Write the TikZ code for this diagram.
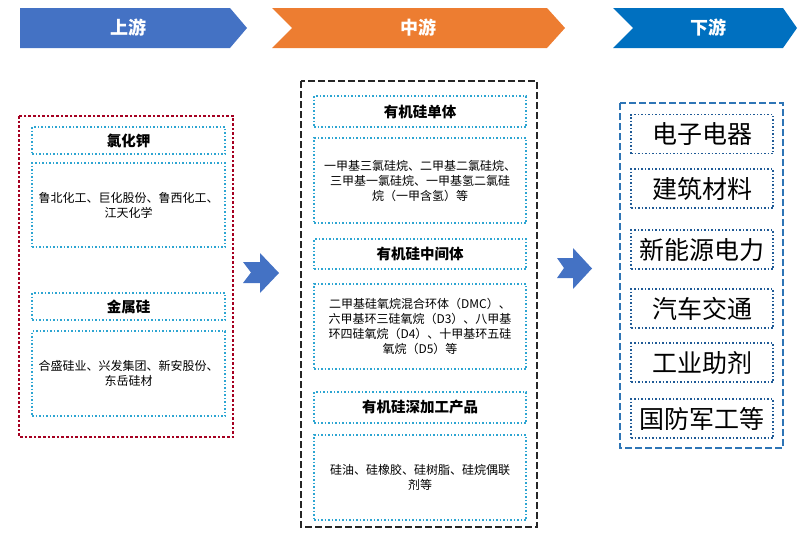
\documentclass[tikz,border=0pt]{standalone}
\usepackage{fontspec}
\setmainfont{Noto Sans CJK SC}
\definecolor{upblue}{RGB}{68,114,196}
\definecolor{midorange}{RGB}{237,125,49}
\definecolor{downblue}{RGB}{0,112,192}
\definecolor{darkred}{RGB}{165,0,33}
\definecolor{cyandot}{RGB}{45,165,210}
\definecolor{boxblue}{RGB}{46,117,182}
\definecolor{navydot}{RGB}{31,90,150}
\tikzset{
  headtxt/.style={text=white,font=\fontsize{18}{20}\selectfont\bfseries},
  titlebox/.style={draw=cyandot,line width=1.5pt,dotted,fill=white,font=\fontsize{14.5}{16}\selectfont\bfseries,inner sep=0pt},
  descbox/.style={draw=cyandot,line width=1.5pt,dotted,fill=white,font=\fontsize{12}{15}\selectfont,align=center,inner sep=0pt},
  downbox/.style={draw=navydot,line width=1.5pt,dotted,fill=white,font=\fontsize{25}{28}\selectfont,minimum width=142pt,minimum height=39pt,inner sep=0pt},
  blockarrow/.style={fill=upblue},
}
\begin{document}
\begin{tikzpicture}[x=1pt,y=-1pt]
\useasboundingbox (0,0) rectangle (806,536);
% header chevrons
\fill[upblue] (20,8) -- (230,8) -- (247,28) -- (230,48) -- (20,48) -- cycle;
\node[headtxt] (hup) at (128,28) {上游};
\fill[midorange] (272,8) -- (547,8) -- (565,28) -- (547,48) -- (272,48) -- (292,28) -- cycle;
\node[headtxt] (hmid) at (418,28) {中游};
\fill[downblue] (613,8) -- (783,8) -- (797,28) -- (783,48) -- (613,48) -- (633,28) -- cycle;
\node[headtxt] (hdown) at (708,28) {下游};

% left container
\draw[darkred,line width=2.6pt,dotted] (19,116) rectangle (233,437);
\node[titlebox,minimum width=193pt,minimum height=27pt] (kcl) at (128.5,140.5) {氯化钾};
\node[descbox,minimum width=193pt,minimum height=84pt] (kcld) at (128.5,205) {鲁北化工、巨化股份、鲁西化工、\\江天化学};
\node[titlebox,minimum width=193pt,minimum height=27pt] (si) at (128.5,306.5) {金属硅};
\node[descbox,minimum width=193pt,minimum height=85pt] (sid) at (128.5,373.5) {合盛硅业、兴发集团、新安股份、\\东岳硅材};

% arrow 1
\fill[blockarrow] (243,262) -- (260,262) -- (260,253) -- (279,273) -- (260,293) -- (260,283) -- (243,283) -- (251,272.5) -- cycle;

% middle container
\draw[black!85,line width=2.3pt,dash pattern=on 7pt off 3pt] (301,81) rectangle (537,527);
\node[titlebox,minimum width=212pt,minimum height=31pt] (m1) at (420,111.5) {有机硅单体};
\node[descbox,minimum width=212pt,minimum height=85pt] (m1d) at (420,180.5) {一甲基三氯硅烷、二甲基二氯硅烷、\\三甲基一氯硅烷、一甲基氢二氯硅\\烷（一甲含氢）等};
\node[titlebox,minimum width=212pt,minimum height=30pt] (m2) at (420,254) {有机硅中间体};
\node[descbox,minimum width=212pt,minimum height=85pt] (m2d) at (420,326.5) {二甲基硅氧烷混合环体（DMC）、\\六甲基环三硅氧烷（D3）、八甲基\\环四硅氧烷（D4）、十甲基环五硅\\氧烷（D5）等};
\node[titlebox,minimum width=212pt,minimum height=31pt] (m3) at (420,407.5) {有机硅深加工产品};
\node[descbox,minimum width=212pt,minimum height=85pt] (m3d) at (420,477.5) {硅油、硅橡胶、硅树脂、硅烷偶联\\剂等};

% arrow 2
\fill[blockarrow] (557,258) -- (573,258) -- (573,248) -- (592,268.5) -- (573,289) -- (573,278) -- (557,278) -- (564,268) -- cycle;

% right container
\draw[boxblue,line width=2pt,dash pattern=on 7pt off 3pt] (620,103) rectangle (783,448);
\node[downbox] (r1) at (702,134) {电子电器};
\node[downbox] (r2) at (702,188.5) {建筑材料};
\node[downbox] (r3) at (702,249.5) {新能源电力};
\node[downbox] (r4) at (702,308.5) {汽车交通};
\node[downbox] (r5) at (702,362.5) {工业助剂};
\node[downbox] (r6) at (702,418.5) {国防军工等};
\end{tikzpicture}
\end{document}
